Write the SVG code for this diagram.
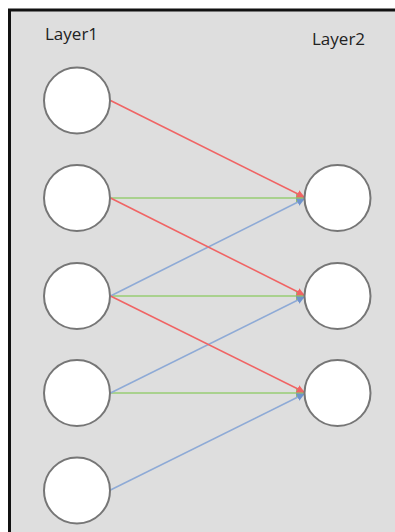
<svg xmlns="http://www.w3.org/2000/svg" width="395" height="532" viewBox="0 0 395 532">
<defs>
<style>
.node{fill:#ffffff;stroke:#767676;stroke-width:2}
.lbl{font-family:"Open Sans","Liberation Sans",sans-serif;font-size:17px;fill:#222}
.red{stroke:#f06464;stroke-width:1.6;fill:none}
.green{stroke:#a9d18e;stroke-width:1.8;fill:none}
.blue{stroke:#8eaad6;stroke-width:1.6;fill:none}
</style>
<marker id="ar" viewBox="0 0 10 10" refX="9" refY="5" markerWidth="5" markerHeight="5" orient="auto"><path d="M0,0 L10,5 L0,10 z" fill="#f06464"/></marker>
<marker id="ag" viewBox="0 0 10 10" refX="9" refY="5" markerWidth="5" markerHeight="5" orient="auto"><path d="M0,0 L10,5 L0,10 z" fill="#8fbf6e"/></marker>
<marker id="ab" viewBox="0 0 10 10" refX="9" refY="5" markerWidth="5" markerHeight="5" orient="auto"><path d="M0,0 L10,5 L0,10 z" fill="#6f93cc"/></marker>
</defs>
<rect x="0" y="0" width="395" height="532" fill="#ffffff"/>
<rect x="10" y="10" width="385" height="522" fill="#dedede"/>
<path d="M9.5,532 L9.5,10 L395,10" fill="none" stroke="#111" stroke-width="3"/>
<text class="lbl" x="45" y="40">Layer1</text>
<text class="lbl" x="312" y="45">Layer2</text>
<g id="connectors">
<line class="green" x1="110.5" y1="198" x2="304" y2="198" marker-end="url(#ag)"/>
<line class="green" x1="110.5" y1="296" x2="304" y2="296" marker-end="url(#ag)"/>
<line class="green" x1="110.5" y1="393" x2="304" y2="393" marker-end="url(#ag)"/>
<line class="blue" x1="110.5" y1="296" x2="304" y2="199" marker-end="url(#ab)"/>
<line class="blue" x1="110.5" y1="393" x2="304" y2="297" marker-end="url(#ab)"/>
<line class="blue" x1="110.5" y1="490" x2="304" y2="394" marker-end="url(#ab)"/>
<line class="red" x1="110.5" y1="100.5" x2="304" y2="197" marker-end="url(#ar)"/>
<line class="red" x1="110.5" y1="198" x2="304" y2="295" marker-end="url(#ar)"/>
<line class="red" x1="110.5" y1="296" x2="304" y2="392" marker-end="url(#ar)"/>
</g>
<g id="l1n1"><circle class="node" cx="77" cy="100.5" r="33"/></g>
<g id="l1n2"><circle class="node" cx="77" cy="198" r="33"/></g>
<g id="l1n3"><circle class="node" cx="77" cy="296" r="33"/></g>
<g id="l1n4"><circle class="node" cx="77" cy="393" r="33"/></g>
<g id="l1n5"><circle class="node" cx="77" cy="490.5" r="33"/></g>
<g id="l2n1"><circle class="node" cx="337.5" cy="198" r="33"/></g>
<g id="l2n2"><circle class="node" cx="337.5" cy="296" r="33"/></g>
<g id="l2n3"><circle class="node" cx="337.5" cy="393" r="33"/></g>
</svg>
